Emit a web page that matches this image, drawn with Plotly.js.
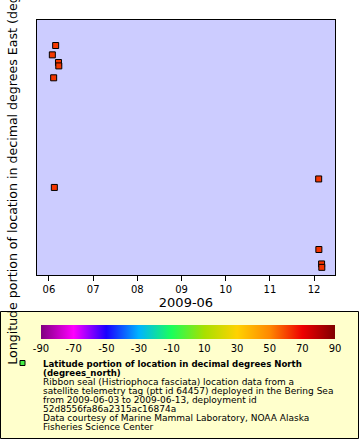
<!DOCTYPE html>
<html>
<head>
<meta charset="utf-8">
<script src="https://cdn.plot.ly/plotly-3.0.1.min.js"></script>
<style>html,body{margin:0;padding:0;background:#fff;}#chart{width:360px;height:440px;}</style>
</head>
<body>
<div id="chart"></div>
<script>
// Data
const times = [
  '2009-06-06 01:50', '2009-06-06 02:33', '2009-06-06 02:55', '2009-06-06 03:38',
  '2009-06-06 05:10', '2009-06-06 05:20', '2009-06-12 02:30', '2009-06-12 02:36',
  '2009-06-12 04:05', '2009-06-12 04:12'
];
const longitudes = [-168.41, -168.68, -169.97, -168.30, -168.50, -168.54, -169.87, -170.70, -170.87, -170.91];
const latitudes = [61.8, 61.9, 62.2, 61.7, 61.9, 61.9, 62.1, 62.4, 62.5, 62.5];
const cbTicks = [-90, -70, -50, -30, -10, 10, 30, 50, 70, 90];
const cbTickText = ['-90', '-70', '-50', '-30', '-10', '10', '30', '50', '70', '90'];
const legendTitle = ['Latitude portion of location in decimal degrees North', '(degrees_north)'];
const legendLines = [
  'Ribbon seal (Histriophoca fasciata) location data from a',
  'satellite telemetry tag (ptt id 64457) deployed in the Bering Sea',
  'from 2009-06-03 to 2009-06-13, deployment id',
  '52d8556fa86a2315ac16874a',
  'Data courtesy of Marine Mammal Laboratory, NOAA Alaska',
  'Fisheries Science Center'
];

const W = 360, H = 440;
const M = {l: 37, r: 25, t: 20, b: 165};
const PW = W - M.l - M.r, PH = H - M.t - M.b;
const px = x => (x - M.l) / PW;
const py = y => (H - M.b - y) / PH;
const FONT = 'DejaVu Sans, sans-serif';

const colorscale = [
  [0, '#800080'], [0.111, '#ff00ff'], [0.222, '#1a00ff'], [0.333, '#00b4ff'],
  [0.444, '#1aff5a'], [0.556, '#a8e000'], [0.667, '#ffd200'], [0.778, '#ff8800'],
  [0.889, '#ee0000'], [1, '#800000']
];

const trace = {
  type: 'scatter', mode: 'markers',
  x: times, y: longitudes,
  marker: {
    symbol: 'square', size: 6,
    color: latitudes, cmin: -90, cmax: 90, colorscale: colorscale,
    line: {color: '#000', width: 1},
    showscale: true,
    colorbar: {
      orientation: 'h', x: px(188), xanchor: 'center', y: py(325), yanchor: 'top',
      len: 294, lenmode: 'pixels', thickness: 14, thicknessmode: 'pixels',
      xpad: 0, ypad: 0, outlinewidth: 0, ticks: '',
      tickmode: 'array', tickvals: cbTicks, ticktext: cbTickText,
      tickfont: {family: FONT, size: 10, color: '#000'}
    }
  },
  hoverinfo: 'x+y'
};

const annotations = [];
legendTitle.forEach((t, i) => annotations.push({
  xref: 'paper', yref: 'paper', x: px(41), y: py(363.5 + 9 * i), xanchor: 'left', yanchor: 'middle',
  text: '<b>' + t + '</b>', showarrow: false, font: {family: FONT, size: 8.6, color: '#000'}
}));
legendLines.forEach((t, i) => annotations.push({
  xref: 'paper', yref: 'paper', x: px(41), y: py(382 + 8.95 * i), xanchor: 'left', yanchor: 'middle',
  text: t, showarrow: false, font: {family: FONT, size: 9, color: '#000'}
}));

const layout = {
  width: W, height: H, margin: M,
  paper_bgcolor: '#fff', plot_bgcolor: '#ccccff',
  font: {family: FONT, color: '#000'},
  showlegend: false,
  xaxis: {
    type: 'date', range: ['2009-06-05 17:30', '2009-06-12 11:22'],
    tick0: '2009-06-06', dtick: 86400000, tickformat: '%d',
    ticks: 'outside', ticklen: 5, tickcolor: '#000',
    showline: true, mirror: true, linecolor: '#000', linewidth: 1,
    showgrid: false, zeroline: false,
    tickfont: {family: FONT, size: 10, color: '#000'},
    title: {text: '2009-06', font: {family: FONT, size: 13, color: '#000'}, standoff: 3}
  },
  yaxis: {
    range: [-171, -168], showticklabels: false, ticks: '',
    showline: true, mirror: true, linecolor: '#000', linewidth: 1,
    showgrid: false, zeroline: false,
    title: {text: 'Longitude portion of location in decimal degrees East (degrees_east)',
            font: {family: FONT, size: 12.6, color: '#000'}, standoff: 15}
  },
  shapes: [
    {type: 'rect', xref: 'paper', yref: 'paper', x0: px(0.5), x1: px(358.5), y0: py(311.5), y1: py(438.5),
     fillcolor: '#ffffcc', line: {color: '#000', width: 1}, layer: 'above'},
    {type: 'rect', xref: 'paper', yref: 'paper', x0: px(20), x1: px(25), y0: py(360.5), y1: py(365.5),
     fillcolor: '#44ee44', line: {color: '#000', width: 1}, layer: 'above'}
  ],
  annotations: annotations
};

Plotly.newPlot('chart', [trace], layout, {displayModeBar: false, staticPlot: true});
</script>
</body>
</html>
